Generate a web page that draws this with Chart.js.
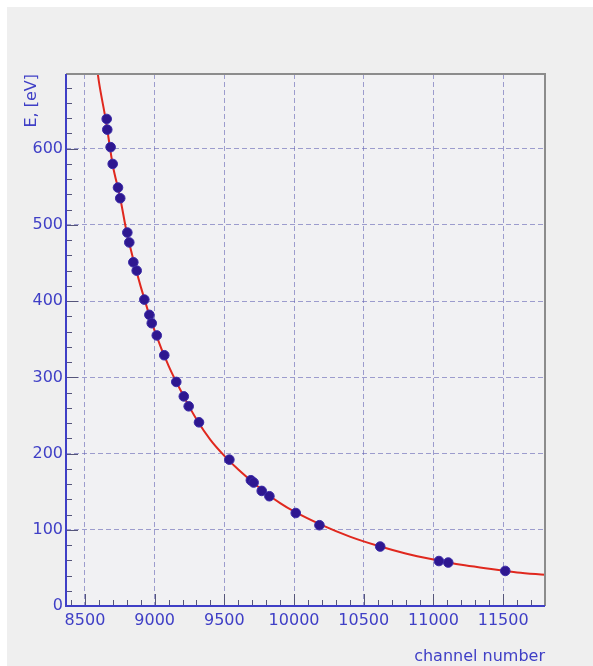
<!DOCTYPE html>
<html>
<head>
<meta charset="utf-8">
<script src="https://cdn.jsdelivr.net/npm/chart.js@4"></script>
<style>
  html, body { margin: 0; padding: 0; background: #ffffff; }
  #wrap { width: 593px; height: 666px; }
</style>
</head>
<body>
<div id="wrap"><canvas id="c" width="593" height="666"></canvas></div>
<script>
// measured points (channel, energy)
const channels = [8656, 8660, 8684, 8699, 8737, 8753, 8804, 8818, 8847, 8871,
  8926, 8962, 8979, 9015, 9069, 9155, 9209, 9244, 9318, 9536,
  9690, 9710, 9768, 9823, 10012, 10182, 10618, 11039, 11106, 11515]
const energies = [639, 625, 602, 580, 549, 535, 490, 477, 451, 440,
  402, 382, 371, 355, 329, 294, 275, 262, 241, 192,
  165, 162, 151, 144, 122, 106, 78, 59, 57, 46]

// fit curve
const fitX = [8580, 8600, 8650, 8700, 8750, 8800, 8900, 9000, 9100, 9200, 9300, 9400,
  9500, 9600, 9700, 9800, 9900, 10000, 10200, 10400, 10600, 10800, 11000, 11200, 11400, 11600, 11800]
const fitE = [715, 688, 637, 578, 538, 490, 419, 361, 315, 278, 245, 218,
  197, 179, 163, 148, 135, 124, 106, 91, 79, 69, 61, 54, 49, 44, 41]

const xTicks = [8500, 9000, 9500, 10000, 10500, 11000, 11500]
const yTicks = [0, 100, 200, 300, 400, 500, 600]

const blue = '#3f3fc6'
const gridCol = 'rgba(100,100,180,0.6)'
const font = { family: 'DejaVu Sans', size: 16 }

const pts = channels.map((x, i) => ({ x: x, y: energies[i] }))
const fit = fitX.map((x, i) => ({ x: x, y: fitE[i] }))

// background, frame and inward ROOT style ticks
const frame = {
  id: 'frame',
  beforeDraw(chart) {
    const { ctx, chartArea: a } = chart
    ctx.save()
    ctx.fillStyle = '#efefef'
    ctx.fillRect(7, 7, chart.width - 7, chart.height - 7)
    ctx.fillStyle = '#f1f1f3'
    ctx.fillRect(a.left, a.top, a.right - a.left, a.bottom - a.top)
    ctx.restore()
  },
  afterDatasetsDraw(chart) {
    const { ctx, chartArea: a, scales } = chart
    const sx = scales.x, sy = scales.y
    ctx.save()
    ctx.lineWidth = 1
    ctx.strokeStyle = '#55557a'
    ctx.beginPath()
    for (let v = 8400; v <= 11800; v += 100) {
      const px = Math.round(sx.getPixelForValue(v)) + 0.5
      const len = v % 500 === 0 ? 12 : 6
      ctx.moveTo(px, a.bottom); ctx.lineTo(px, a.bottom - len)
    }
    for (let v = 20; v <= 680; v += 20) {
      const py = Math.round(sy.getPixelForValue(v)) + 0.5
      const len = v % 100 === 0 ? 12 : 6
      ctx.moveTo(a.left, py); ctx.lineTo(a.left + len, py)
    }
    ctx.stroke()
    // top and right frame
    ctx.strokeStyle = '#8c8c8c'
    ctx.lineWidth = 2
    ctx.beginPath()
    ctx.moveTo(a.left, a.top); ctx.lineTo(a.right, a.top); ctx.lineTo(a.right, a.bottom)
    ctx.stroke()
    // axis lines
    ctx.strokeStyle = blue
    ctx.beginPath()
    ctx.moveTo(a.left, a.top); ctx.lineTo(a.left, a.bottom); ctx.lineTo(a.right, a.bottom)
    ctx.stroke()
    ctx.restore()
  }
}

new Chart(document.getElementById('c'), {
  type: 'scatter',
  data: {
    datasets: [
      {
        label: 'fit',
        data: fit,
        showLine: true,
        borderColor: '#e0281e',
        borderWidth: 2,
        pointRadius: 0,
        cubicInterpolationMode: 'monotone',
        order: 2
      },
      {
        label: 'data',
        data: pts,
        backgroundColor: '#2e1790',
        borderColor: '#3a2aa8',
        borderWidth: 1,
        pointRadius: 4.8,
        order: 1
      }
    ]
  },
  options: {
    responsive: false,
    animation: false,
    layout: { padding: { left: 0, top: 74, right: 48, bottom: 0 } },
    plugins: { legend: { display: false }, tooltip: { enabled: false } },
    scales: {
      x: {
        type: 'linear',
        min: 8364,
        max: 11800,
        afterBuildTicks: s => { s.ticks = xTicks.map(v => ({ value: v })) },
        afterFit: s => { s.height = 60 },
        grid: { color: gridCol, lineWidth: 1, drawTicks: false },
        border: { display: false, dash: [5, 3] },
        ticks: { color: blue, font: font, padding: 5, maxRotation: 0, callback: v => String(v) },
        title: { display: true, text: 'channel number', align: 'end', color: blue, font: font, padding: { top: 0, bottom: 0 } }
      },
      y: {
        type: 'linear',
        min: 0,
        max: 698,
        afterBuildTicks: s => { s.ticks = yTicks.map(v => ({ value: v })) },
        afterFit: s => { s.width = 66 },
        grid: {
          color: c => c.tick && c.tick.value === 0 ? 'rgba(0,0,0,0)' : gridCol,
          lineWidth: 1,
          drawTicks: false
        },
        border: { display: false, dash: [5, 3] },
        ticks: { color: blue, font: font, padding: 3, callback: v => String(v) },
        title: { display: true, text: 'E, [eV]', align: 'end', color: blue, font: font, padding: { top: 22, bottom: 0 } }
      }
    }
  },
  plugins: [frame]
})
</script>
</body>
</html>
